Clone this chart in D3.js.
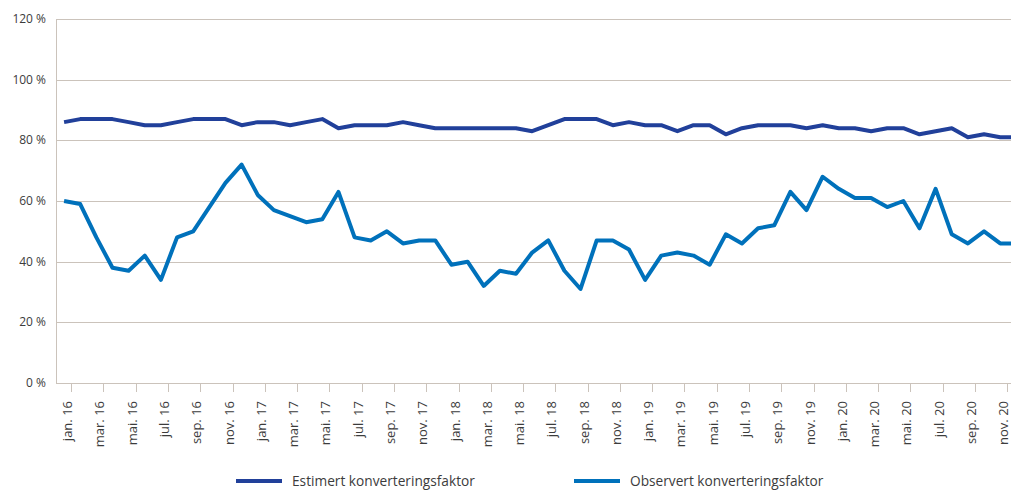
<!DOCTYPE html>
<html>
<head>
<meta charset="utf-8">
<script src="https://d3js.org/d3.v7.min.js"></script>
<style>
  body { margin: 0; background: #fff; overflow: hidden; }
  svg text { font-family: "Open Sans", sans-serif; fill: #3c3c3c; }
</style>
</head>
<body>
<svg id="chart" width="1011" height="491"></svg>
<script>
// months jan.16 .. des.20 (the right edge of the chart is cut off, as in the source)
var monthNames = ["jan.", "feb.", "mar.", "apr.", "mai.", "jun.", "jul.", "aug.", "sep.", "okt.", "nov.", "des."];
var years = ["16", "17", "18", "19", "20"];
var months = [];
years.forEach(function(y) {
  monthNames.forEach(function(m) { months.push(m + " " + y); });
});

var estimert = [86, 87, 87, 87, 86, 85, 85, 86, 87, 87, 87, 85, 86, 86, 85, 86, 87, 84, 85, 85,
                85, 86, 85, 84, 84, 84, 84, 84, 84, 83, 85, 87, 87, 87, 85, 86, 85, 85, 83, 85,
                85, 82, 84, 85, 85, 85, 84, 85, 84, 84, 83, 84, 84, 82, 83, 84, 81, 82, 81, 81];
var observert = [60, 59, 48, 38, 37, 42, 34, 48, 50, 58, 66, 72, 62, 57, 55, 53, 54, 63, 48, 47,
                 50, 46, 47, 47, 39, 40, 32, 37, 36, 43, 47, 37, 31, 47, 47, 44, 34, 42, 43, 42,
                 39, 49, 46, 51, 52, 63, 57, 68, 64, 61, 61, 58, 60, 51, 64, 49, 46, 50, 46, 46];
var yTicks = [0, 20, 40, 60, 80, 100, 120];
var seriesNames = ["Estimert konverteringsfaktor", "Observert konverteringsfaktor"];
var seriesColors = ["#21409a", "#0071bb"];

var plotLeft = 56, plotRight = 56 + 60 * 16.14, plotTop = 19, plotBottom = 383;
var svg = d3.select("#chart");

var x = d3.scaleBand().domain(months).range([plotLeft, plotRight]);
var y = d3.scaleLinear().domain([0, 120]).range([plotBottom, plotTop]);

// grid
svg.append("g").selectAll("line")
  .data(yTicks.filter(function(d) { return d > 0; }))
  .enter().append("line")
  .attr("x1", plotLeft).attr("x2", plotRight)
  .attr("y1", function(d) { return Math.round(y(d)) + 0.5; })
  .attr("y2", function(d) { return Math.round(y(d)) + 0.5; })
  .attr("stroke", "#cbc3bb").attr("stroke-width", 1);

// y axis labels
svg.append("g").selectAll("text")
  .data(yTicks)
  .enter().append("text")
  .attr("x", 46)
  .attr("y", function(d) { return y(d) + 4; })
  .attr("text-anchor", "end")
  .style("font-size", "12px")
  .text(function(d) { return d + " %"; });

// axes lines
svg.append("line").attr("x1", plotLeft + 0.5).attr("x2", plotLeft + 0.5).attr("y1", plotTop).attr("y2", plotBottom)
  .attr("stroke", "#cbc3bb");
svg.append("line").attr("x1", plotLeft).attr("x2", plotRight).attr("y1", plotBottom + 0.5).attr("y2", plotBottom + 0.5)
  .attr("stroke", "#cbc3bb");

// ticks + labels every second month, tick at right edge of category
var labelled = months.filter(function(d, i) { return i % 2 === 0; });
var tickX = function(d) { return Math.round(x(d) + x.bandwidth()) - 0.5; };
svg.append("g").selectAll("line")
  .data(labelled)
  .enter().append("line")
  .attr("x1", tickX).attr("x2", tickX)
  .attr("y1", plotBottom).attr("y2", plotBottom + 9)
  .attr("stroke", "#cbc3bb");
svg.append("g").selectAll("text")
  .data(labelled)
  .enter().append("text")
  .attr("transform", function(d) { return "translate(" + (x(d) + x.bandwidth()) + ",401) rotate(-90)"; })
  .attr("text-anchor", "end")
  .style("font-size", "13px")
  .text(function(d) { return d; });

// lines
var line = d3.line()
  .x(function(d, i) { return x(months[i]) + x.bandwidth() / 2; })
  .y(function(d) { return y(d); });

[estimert, observert].forEach(function(s, k) {
  svg.append("path")
    .datum(s)
    .attr("d", line)
    .attr("fill", "none")
    .attr("stroke", seriesColors[k])
    .attr("stroke-width", 4)
    .attr("stroke-linejoin", "round");
});

// legend
var legendX = [236, 574];
seriesNames.forEach(function(n, k) {
  svg.append("line")
    .attr("x1", legendX[k]).attr("x2", legendX[k] + 46)
    .attr("y1", 481).attr("y2", 481)
    .attr("stroke", seriesColors[k]).attr("stroke-width", 4);
  svg.append("text")
    .attr("x", legendX[k] + 56).attr("y", 486)
    .style("font-size", "13.7px")
    .text(n);
});
</script>
</body>
</html>
